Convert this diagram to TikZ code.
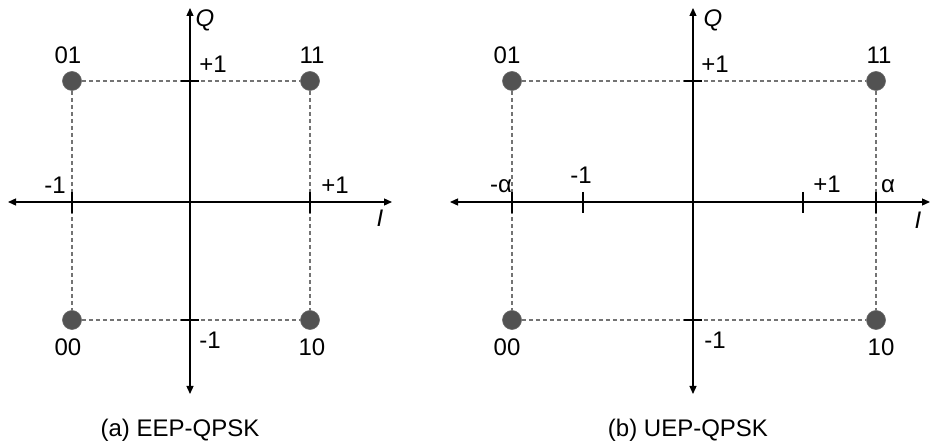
\documentclass[tikz,border=0pt]{standalone}
\usepackage{fontspec}
\setmainfont{Liberation Sans}
\usetikzlibrary{arrows.meta}
\begin{document}
\begin{tikzpicture}[x=1pt,y=-1pt,
  axis/.style={line width=1.3pt,-{Triangle[length=8pt,width=7pt]}},
  dotpt/.style={circle,fill=black!68,draw=black!60,line width=0.6pt,minimum size=19pt,inner sep=0pt},
  guide/.style={draw=black!55,line width=1.2pt,dash pattern=on 4pt off 3pt},
  tickmark/.style={line width=2.2pt},
  lbl/.style={font=\fontsize{24}{26}\selectfont,inner sep=0pt},
  axlbl/.style={font=\fontsize{24}{26}\selectfont\itshape,inner sep=0pt}]
\useasboundingbox (0,0) rectangle (932,443);
% ---------- panel (a) ----------
\coordinate (aO) at (190,202);
\coordinate (aL) at (8,202);
\coordinate (aR) at (392,202);
\coordinate (aT) at (190,8);
\coordinate (aB) at (190,394);
\node[dotpt] (a01) at (72,81) {};
\node[dotpt] (a11) at (310,81) {};
\node[dotpt] (a00) at (72,320) {};
\node[dotpt] (a10) at (310,320) {};
\draw[guide] (a01) -- (a11);
\draw[guide] (a00) -- (a10);
\draw[guide] (a01) -- (a00);
\draw[guide] (a11) -- (a10);
\draw[axis] (aO) -- (aR);
\draw[axis] (aO) -- (aL);
\draw[axis] (aO) -- (aT);
\draw[axis] (aO) -- (aB);
\draw[tickmark] (181,81) -- (199,81);
\draw[tickmark] (181,320) -- (199,320);
\draw[tickmark] (72,192) -- (72,213);
\draw[tickmark] (310,192) -- (310,213);
\node[lbl] (a01t) at (68,55) {01};
\node[lbl] (a11t) at (312,55) {11};
\node[lbl] (a00t) at (68,347) {00};
\node[lbl] (a10t) at (312,347) {10};
\node[lbl] (aqp) at (213,64) {+1};
\node[lbl] (aqm) at (210,340) {-1};
\node[lbl] (aim) at (55,185) {-1};
\node[lbl] (aip) at (335,185) {+1};
\node[axlbl] (aQ) at (205,20) {Q};
\node[axlbl] (aI) at (380,218) {I};
\node[lbl] (acap) at (180,430) {(a) EEP-QPSK};
% ---------- panel (b) ----------
\coordinate (bO) at (693,202);
\coordinate (bL) at (450,202);
\coordinate (bR) at (930,202);
\coordinate (bT) at (693,8);
\coordinate (bB) at (693,394);
\node[dotpt] (b01) at (512,81) {};
\node[dotpt] (b11) at (876,81) {};
\node[dotpt] (b00) at (512,320) {};
\node[dotpt] (b10) at (876,320) {};
\draw[guide] (b01) -- (b11);
\draw[guide] (b00) -- (b10);
\draw[guide] (b01) -- (b00);
\draw[guide] (b11) -- (b10);
\draw[axis] (bO) -- (bR);
\draw[axis] (bO) -- (bL);
\draw[axis] (bO) -- (bT);
\draw[axis] (bO) -- (bB);
\draw[tickmark] (684,81) -- (702,81);
\draw[tickmark] (684,320) -- (702,320);
\draw[tickmark] (512,192) -- (512,213);
\draw[tickmark] (583,192) -- (583,213);
\draw[tickmark] (803,192) -- (803,213);
\draw[tickmark] (876,192) -- (876,213);
\node[lbl] (b01t) at (507,55) {01};
\node[lbl] (b11t) at (879,55) {11};
\node[lbl] (b00t) at (507,347) {00};
\node[lbl] (b10t) at (881,347) {10};
\node[lbl] (bqp) at (715,64) {+1};
\node[lbl] (bqm) at (715,340) {-1};
\node[lbl] (bam) at (501,186) {-α};
\node[lbl] (bim) at (581,175) {-1};
\node[lbl] (bip) at (827,184) {+1};
\node[lbl] (bap) at (888,186) {α};
\node[axlbl] (bQ) at (713,20) {Q};
\node[axlbl] (bI) at (918,220) {I};
\node[lbl] (bcap) at (688,430) {(b) UEP-QPSK};
\end{tikzpicture}
\end{document}
